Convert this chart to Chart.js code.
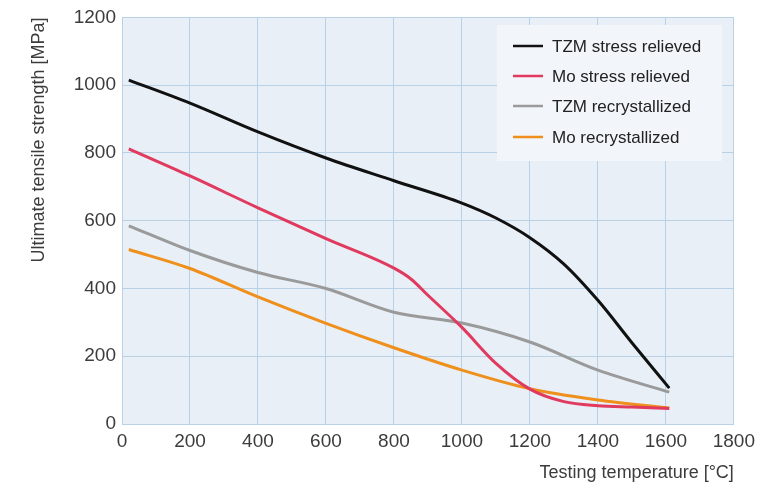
<!DOCTYPE html>
<html>
<head>
<meta charset="utf-8">
<script src="https://cdn.jsdelivr.net/npm/chart.js@4.4.0/dist/chart.umd.min.js"></script>
<style>
    html, body { margin: 0; padding: 0; background: #ffffff; }
    #wrap { width: 761px; height: 486px; }
</style>
</head>
<body>
<div id="wrap"><canvas id="strengthChart" width="761" height="486"></canvas></div>
<script>
// data (temperature in °C, strength in MPa)

const tzmSrTemp = [20, 200, 400, 600, 800, 1000, 1100, 1200, 1300, 1400, 1500, 1610];
const tzmSrVal = [1015, 947, 862, 785, 718, 652, 608, 550, 472, 365, 240, 106];

const moSrTemp = [20, 200, 400, 600, 800, 850, 900, 1000, 1100, 1200, 1300, 1400, 1500, 1610];
const moSrVal = [812, 732, 638, 547, 460, 428, 380, 285, 179, 103, 66, 54, 50, 46];

const tzmRxTemp = [20, 200, 400, 600, 800, 1000, 1200, 1400, 1610];
const tzmRxVal = [585, 512, 447, 400, 330, 298, 242, 159, 94];

const moRxTemp = [20, 200, 400, 600, 800, 1000, 1200, 1400, 1610];
const moRxVal = [515, 459, 375, 297, 225, 159, 104, 71, 47];

const seriesLabels = ['TZM stress relieved', 'Mo stress relieved', 'TZM recrystallized', 'Mo recrystallized'];

const xTicks = [0, 200, 400, 600, 800, 1000, 1200, 1400, 1600, 1800];
const yTicks = [0, 200, 400, 600, 800, 1000, 1200];

// colours
const colBlack = '#111111';
const colRed = '#e03a5e';
const colGray = '#9a9a9a';
const colOrange = '#ef8f1c';
const gridColor = '#b9d1e7';
const plotBg = '#e8eff7';
const textColor = '#3c3c3c';
const fontFam = "'Liberation Sans', Arial, Helvetica, sans-serif";

const toPoints = (xs, ys) => xs.map((x, i) => ({ x: x, y: ys[i] }));

//plot background + legend box drawn on the canvas
const plotArea = {
    id: 'plotArea',
    beforeDraw(chart) {
        const { ctx, chartArea } = chart;
        ctx.save();
        ctx.fillStyle = plotBg;
        ctx.fillRect(chartArea.left, chartArea.top, chartArea.right - chartArea.left, chartArea.bottom - chartArea.top);
        ctx.restore();
    },
    beforeDatasetsDraw(chart) {
        const { ctx } = chart;
        ctx.save();
        ctx.fillStyle = '#f2f6fa';
        ctx.fillRect(497, 25, 225, 136);
        ctx.restore();
    },
    afterDatasetsDraw(chart) {
        const { ctx } = chart;
        ctx.save();
        ctx.font = '17px ' + fontFam;
        ctx.textBaseline = 'middle';
        const rows = [46, 76, 106, 137];
        chart.data.datasets.forEach((ds, i) => {
            ctx.strokeStyle = ds.borderColor;
            ctx.lineWidth = 2.5;
            ctx.beginPath();
            ctx.moveTo(513, rows[i]);
            ctx.lineTo(543, rows[i]);
            ctx.stroke();
            ctx.fillStyle = '#222222';
            ctx.fillText(ds.label, 552, rows[i] + 1);
        });
        ctx.restore();
    }
};

const lineDefaults = {
    fill: false,
    borderWidth: 3,
    pointRadius: 0,
    cubicInterpolationMode: 'monotone'
};

new Chart(document.getElementById('strengthChart'), {
    type: 'line',
    data: {
        datasets: [
            Object.assign({ label: seriesLabels[0], data: toPoints(tzmSrTemp, tzmSrVal), borderColor: colBlack }, lineDefaults),
            Object.assign({ label: seriesLabels[1], data: toPoints(moSrTemp, moSrVal), borderColor: colRed }, lineDefaults),
            Object.assign({ label: seriesLabels[2], data: toPoints(tzmRxTemp, tzmRxVal), borderColor: colGray }, lineDefaults),
            Object.assign({ label: seriesLabels[3], data: toPoints(moRxTemp, moRxVal), borderColor: colOrange }, lineDefaults)
        ]
    },
    options: {
        responsive: false,
        animation: false,
        layout: { padding: { left: 28, right: 3, top: 6, bottom: 0 } },
        plugins: {
            legend: { display: false },
            tooltip: { enabled: false }
        },
        scales: {
            x: {
                type: 'linear',
                min: 0,
                max: 1800,
                afterBuildTicks: (axis) => { axis.ticks = xTicks.map(v => ({ value: v })); },
                afterFit: (axis) => { axis.height = 62; },
                grid: { color: gridColor, drawTicks: false },
                border: { color: gridColor },
                ticks: {
                    color: textColor, font: { family: fontFam, size: 19 }, padding: 6, maxRotation: 0,
                    callback: (v) => String(v)
                },
                title: {
                    display: true,
                    text: 'Testing temperature [°C]',
                    align: 'end',
                    color: textColor,
                    font: { family: fontFam, size: 18 },
                    padding: { top: 4, bottom: 2 }
                }
            },
            y: {
                min: 0,
                max: 1200,
                afterBuildTicks: (axis) => { axis.ticks = yTicks.map(v => ({ value: v })); },
                afterFit: (axis) => { axis.width = 94; },
                grid: { color: gridColor, drawTicks: false },
                border: { color: gridColor },
                ticks: {
                    color: textColor, font: { family: fontFam, size: 19 }, padding: 6,
                    callback: (v) => String(v)
                },
                title: {
                    display: true,
                    text: 'Ultimate tensile strength [MPa]',
                    align: 'end',
                    color: textColor,
                    font: { family: fontFam, size: 18 },
                    padding: { top: 0, bottom: 0 }
                }
            }
        }
    },
    plugins: [plotArea]
});
</script>
</body>
</html>
